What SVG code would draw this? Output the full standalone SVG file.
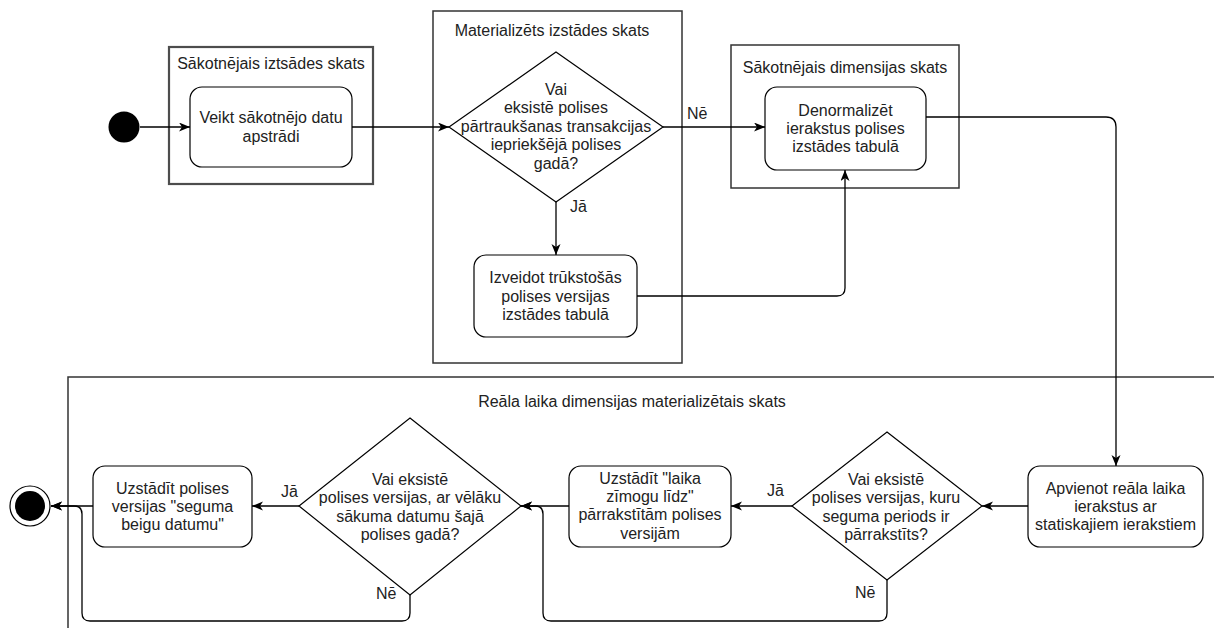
<svg xmlns="http://www.w3.org/2000/svg" width="1214" height="628" viewBox="0 0 1214 628">
<style>
.lane{fill:none;stroke:#333;stroke-width:1.5}
.lane1{fill:none;stroke:#4d4d4d;stroke-width:2.2}
.node{fill:#fff;stroke:#000;stroke-width:1.2}
.t{font-family:"Liberation Sans",Arial,sans-serif;font-size:16px;fill:#222;text-anchor:middle}
.l{font-family:"Liberation Sans",Arial,sans-serif;font-size:16px;fill:#222}
.edge{fill:none;stroke:#000;stroke-width:1.3}
</style>
<defs>
<marker id="arr" markerUnits="userSpaceOnUse" markerWidth="12" markerHeight="10" refX="11" refY="4.5" orient="auto">
<path d="M0,0 L11,4.5 L0,9 L3,4.5 Z" fill="#000"/>
</marker>
</defs>
<rect width="1214" height="628" fill="#fff"/>

<g id="lane-sakotnejais-izstades">
<rect class="lane1" x="169" y="47" width="204" height="137"/>
<text class="t" x="271" y="69">Sākotnējais iztsādes skats</text>
</g>
<g id="lane-materializets">
<rect class="lane" x="433" y="11" width="249" height="352"/>
<text class="t" x="552" y="36">Materializēts izstādes skats</text>
</g>
<g id="lane-dimensijas">
<rect class="lane" x="731" y="45" width="228" height="143"/>
<text class="t" x="845" y="73">Sākotnējais dimensijas skats</text>
</g>
<g id="lane-reala-laika">
<path class="lane" d="M68,628 V377 H1214"/>
<text class="t" x="632" y="407">Reāla laika dimensijas materializētais skats</text>
</g>

<g id="start">
<circle cx="124" cy="127" r="15.5" fill="#000"/>
</g>
<g id="veikt">
<rect class="node" x="190" y="87" width="162" height="80" rx="12"/>
<text class="t" x="271" y="123.3">Veikt sākotnējo datu</text>
<text class="t" x="271" y="141.7">apstrādi</text>
</g>
<g id="decision1">
<polygon class="node" points="556,52 663,127 556,202 449,127"/>
<text class="t" x="556" y="95">Vai</text>
<text class="t" x="556" y="113.4">eksistē polises</text>
<text class="t" x="556" y="131.8">pārtraukšanas transakcijas</text>
<text class="t" x="556" y="150.2">iepriekšējā polises</text>
<text class="t" x="556" y="168.6">gadā?</text>
</g>
<g id="izveidot">
<rect class="node" x="474" y="255" width="163" height="82" rx="12"/>
<text class="t" x="555.5" y="283.3">Izveidot trūkstošās</text>
<text class="t" x="555.5" y="301.7">polises versijas</text>
<text class="t" x="555.5" y="320.1">izstādes tabulā</text>
</g>
<g id="denormalizet">
<rect class="node" x="765" y="87" width="161" height="83" rx="12"/>
<text class="t" x="845.5" y="115.6">Denormalizēt</text>
<text class="t" x="845.5" y="134">ierakstus polises</text>
<text class="t" x="845.5" y="152.4">izstādes tabulā</text>
</g>
<g id="apvienot">
<rect class="node" x="1028" y="466" width="175" height="81" rx="12"/>
<text class="t" x="1115.5" y="493.5">Apvienot reāla laika</text>
<text class="t" x="1115.5" y="511.9">ierakstus ar</text>
<text class="t" x="1115.5" y="530.3">statiskajiem ierakstiem</text>
</g>
<g id="decision2">
<polygon class="node" points="887,432 982,506 887,580 792,506"/>
<text class="t" x="886" y="485">Vai eksistē</text>
<text class="t" x="886" y="503.4">polises versijas, kuru</text>
<text class="t" x="886" y="521.8">seguma periods ir</text>
<text class="t" x="886" y="540.2">pārrakstīts?</text>
</g>
<g id="uzstadit-laika">
<rect class="node" x="569" y="466" width="162" height="81" rx="12"/>
<text class="t" x="650" y="483.5">Uzstādīt "laika</text>
<text class="t" x="650" y="501.9">zīmogu līdz"</text>
<text class="t" x="650" y="520.3">pārrakstītām polises</text>
<text class="t" x="650" y="538.7">versijām</text>
</g>
<g id="decision3">
<polygon class="node" points="410,418 521,506 410,595 299,506"/>
<text class="t" x="410" y="485">Vai eksistē</text>
<text class="t" x="410" y="503.4">polises versijas, ar vēlāku</text>
<text class="t" x="410" y="521.8">sākuma datumu šajā</text>
<text class="t" x="410" y="540.2">polises gadā?</text>
</g>
<g id="uzstadit-polises">
<rect class="node" x="93" y="466" width="159" height="81" rx="12"/>
<text class="t" x="172.5" y="493.5">Uzstādīt polises</text>
<text class="t" x="172.5" y="511.9">versijas "seguma</text>
<text class="t" x="172.5" y="530.3">beigu datumu"</text>
</g>
<g id="end">
<circle cx="30" cy="506" r="20" fill="#fff" stroke="#000" stroke-width="1.2"/>
<circle cx="30" cy="506" r="15" fill="#000"/>
</g>

<g id="connectors">
<path class="edge" d="M140,127 H190" marker-end="url(#arr)"/>
<path class="edge" d="M352,127 H449" marker-end="url(#arr)"/>
<path class="edge" d="M663,127 H765" marker-end="url(#arr)"/>
<path class="edge" d="M556,202 V255" marker-end="url(#arr)"/>
<path class="edge" d="M637,296 H837 Q845,296 845,288 V170" marker-end="url(#arr)"/>
<path class="edge" d="M926,117 H1106 Q1116,117 1116,127 V466" marker-end="url(#arr)"/>
<path class="edge" d="M1028,506 H982" marker-end="url(#arr)"/>
<path class="edge" d="M792,506 H731" marker-end="url(#arr)"/>
<path class="edge" d="M887,580 V613 Q887,621 879,621 H551 Q543,621 543,613 V514 Q543,506 535,506 H521" marker-end="url(#arr)"/>
<path class="edge" d="M569,506 H521" marker-end="url(#arr)"/>
<path class="edge" d="M299,506 H252" marker-end="url(#arr)"/>
<path class="edge" d="M410,595 V613 Q410,621 402,621 H90 Q82,621 82,613 V514 Q82,506 74,506 H51" marker-end="url(#arr)"/>
<path class="edge" d="M93,506 H51" marker-end="url(#arr)"/>
<text class="l" x="687" y="119">Nē</text>
<text class="l" x="570" y="212">Jā</text>
<text class="l" x="767" y="496">Jā</text>
<text class="l" x="855" y="598">Nē</text>
<text class="l" x="281" y="497">Jā</text>
<text class="l" x="376" y="599">Nē</text>
</g>
</svg>
